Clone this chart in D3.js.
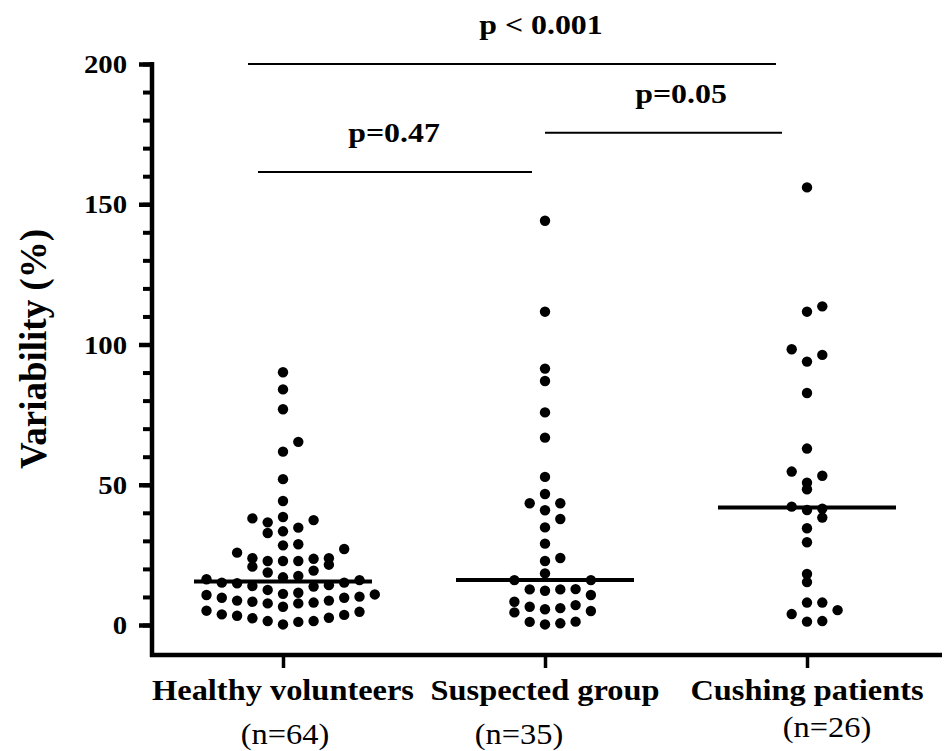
<!DOCTYPE html>
<html>
<head>
<meta charset="utf-8">
<script src="https://cdn.jsdelivr.net/npm/d3@7"></script>
<style>
  body { margin: 0; background: #fff; }
  svg { display: block; font-family: "Liberation Serif", "Times New Roman", serif; }
</style>
</head>
<body>
<div id="chart"></div>
<script>
const groups = ["Healthy volunteers", "Suspected group", "Cushing patients"];
const groupSizes = ["(n=64)", "(n=35)", "(n=26)"];

const healthyValues = [90.1, 84.0, 76.9, 65.3, 61.8, 52.0, 44.2, 38.5, 37.4, 38.0,
    36.6, 34.7, 33.4, 32.8, 28.8, 28.4, 27.1, 25.8, 23.8, 22.8,
    22.8, 22.8, 23.6, 23.8, 21.5, 20.8, 19.4, 18.7, 17.5, 17.0,
    16.3, 16.0, 15.1, 14.2, 13.7, 13.9, 14.9, 15.1, 11.5, 10.7,
    10.9, 11.1, 12.5, 9.7, 8.7, 8.3, 7.7, 7.7, 8.0, 8.7,
    9.7, 10.1, 6.5, 5.1, 3.8, 3.3, 2.4, 1.4, 0.2, 1.1,
    1.4, 2.6, 3.6, 4.7];
const suspectedValues = [144.1, 111.7, 91.4, 87.0, 75.8, 66.8, 52.8, 46.7, 43.4, 43.4,
    40.9, 37.8, 34.8, 29.0, 23.9, 22.8, 18.4, 16.0, 16.0, 12.8,
    12.7, 12.7, 12.2, 10.7, 8.3, 7.1, 6.5, 6.0, 5.6, 5.0,
    4.5, 1.2, 1.1, 0.6, 0.2];
const cushingValues = [156.0, 113.6, 111.7, 98.3, 96.3, 93.9, 82.7, 62.9, 54.7, 53.2,
    50.7, 48.4, 42.2, 41.5, 41.0, 38.3, 34.5, 29.5, 18.2, 15.3,
    8.0, 8.0, 5.3, 3.9, 1.4, 1.2];

const yMajorTicks = [0, 50, 100, 150, 200];
const yMinorTicks = [0, 10, 20, 30, 40, 50, 60, 70, 80, 90, 100,
    110, 120, 130, 140, 150, 160, 170, 180, 190, 200];

// pairwise tests drawn above the columns
const comparisons = [
    { from: "Healthy volunteers", to: "Cushing patients", level: 200, label: "p < 0.001" },
    { from: "Suspected group", to: "Cushing patients", level: 175.5, label: "p=0.05" },
    { from: "Healthy volunteers", to: "Suspected group", level: 161.5, label: "p=0.47" }
];

const width = 944, height = 751;
const svg = d3.select("#chart").append("svg")
    .attr("width", width)
    .attr("height", height);

const x = d3.scalePoint()
    .domain(groups)
    .range([152, 938])
    .padding(0.5);

const y = d3.scaleLinear()
    .domain([0, 200])
    .range([625, 64]);

const axisY = 655;

// y axis: minor ticks every 10, longer ticks with labels every 50
svg.append("g")
    .attr("transform", "translate(152,0)")
    .call(d3.axisLeft(y).tickValues(yMinorTicks).tickSize(9).tickSizeOuter(0).tickFormat(""))
    .call(g => g.select(".domain").remove())
    .call(g => g.selectAll("line").attr("stroke", "#000").attr("stroke-width", 4));

const yAxis = svg.append("g")
    .attr("transform", "translate(152,0)")
    .call(d3.axisLeft(y).tickValues(yMajorTicks).tickSize(13).tickSizeOuter(0).tickPadding(12));
yAxis.select(".domain").remove();
yAxis.selectAll("line").attr("stroke", "#000").attr("stroke-width", 4.5);
yAxis.selectAll("text")
    .attr("x", null)
    .attr("dy", "0.34em")
    .attr("transform", "translate(-25,0) scale(1.15,1)")
    .attr("fill", "#000")
    .style("font-size", "25px")
    .style("font-weight", "bold")
    .style("font-family", "'Liberation Serif', serif");

svg.append("line")
    .attr("x1", 152).attr("x2", 152)
    .attr("y1", y(200) - 2).attr("y2", axisY + 2)
    .attr("stroke", "#000").attr("stroke-width", 4.5);

// x axis
const xAxis = svg.append("g")
    .attr("transform", `translate(0,${axisY})`)
    .call(d3.axisBottom(x).tickSize(13).tickSizeOuter(0).tickFormat(""));
xAxis.select(".domain").remove();
xAxis.selectAll("line").attr("stroke", "#000").attr("stroke-width", 3.5);

svg.append("line")
    .attr("x1", 150).attr("x2", 942)
    .attr("y1", axisY).attr("y2", axisY)
    .attr("stroke", "#000").attr("stroke-width", 4.5);

// category names and group sizes
const sizeShift = [2, -26, 20];
const sizeBaseline = [744, 744, 737];
groups.forEach((g, i) => {
    svg.append("text")
        .attr("transform", `translate(${x(g)},700) scale(1.08,1)`)
        .attr("text-anchor", "middle")
        .style("font-size", "30px")
        .style("font-weight", "bold")
        .text(g);
    svg.append("text")
        .attr("transform", `translate(${x(g) + sizeShift[i]},${sizeBaseline[i]}) scale(1.08,1)`)
        .attr("text-anchor", "middle")
        .style("font-size", "30px")
        .text(groupSizes[i]);
});

// y axis title
svg.append("text")
    .attr("transform", `translate(46,${(225 + 473) / 2}) rotate(-90)`)
    .attr("text-anchor", "middle")
    .style("font-size", "37px")
    .style("font-weight", "bold")
    .text("Variability (%)");

// column scatter: values binned by height, spread out from the centre within each bin
function swarm(values, cx) {
    const binPx = 15.4, step = 15.3;
    const bins = d3.group(values, v => Math.floor((y(0) - y(v)) / binPx));
    const out = [];
    for (const [, pts] of bins) {
        pts.slice().sort((a, b) => a - b).forEach((v, i) => {
            const slot = i === 0 ? 0 : (i % 2 ? (i + 1) / 2 : -i / 2);
            out.push({ v, cx: cx + slot * step, cy: y(v) });
        });
    }
    return out;
}

const series = [healthyValues, suspectedValues, cushingValues];
series.forEach((vals, i) => {
    const cx = x(groups[i]);
    svg.append("g")
        .selectAll("circle")
        .data(swarm(vals, cx))
        .enter().append("circle")
        .attr("cx", d => d.cx)
        .attr("cy", d => d.cy)
        .attr("r", 5.2)
        .attr("fill", "#000");

    const med = d3.median(vals);
    svg.append("line")
        .attr("x1", cx - 89).attr("x2", cx + 89)
        .attr("y1", y(med)).attr("y2", y(med))
        .attr("stroke", "#000")
        .attr("stroke-width", 4);
});

// significance bars
const bracketLayout = [
    { start: -35, end: -31, textX: 541 },
    { start: 0, end: -25, textX: 681 },
    { start: -25, end: -13, textX: 394 }
];
comparisons.forEach((c, i) => {
    const L = bracketLayout[i];
    const yy = y(c.level);
    svg.append("line")
        .attr("x1", x(c.from) + L.start).attr("x2", x(c.to) + L.end)
        .attr("y1", yy).attr("y2", yy)
        .attr("stroke", "#000")
        .attr("stroke-width", 2);
    svg.append("text")
        .attr("transform", `translate(${L.textX},${yy - 30}) scale(1.18,1)`)
        .attr("text-anchor", "middle")
        .style("font-size", "27px")
        .style("font-weight", "bold")
        .text(c.label);
});
</script>
</body>
</html>
